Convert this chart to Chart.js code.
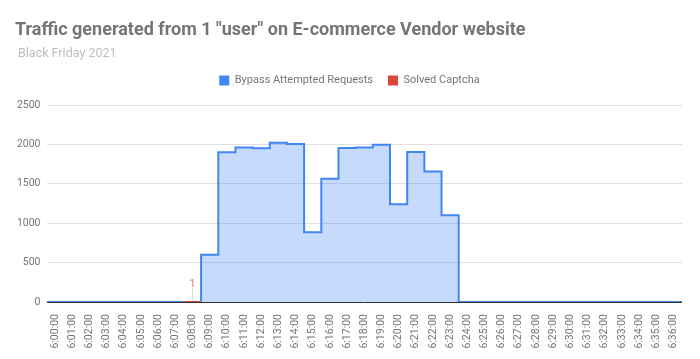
<!DOCTYPE html>
<html>
<head>
<meta charset="utf-8">
<script src="https://cdn.jsdelivr.net/npm/chart.js@4"></script>
<style>
html,body{margin:0;padding:0;background:#fff;}
#wrap{width:700px;height:359px;position:relative;}
</style>
</head>
<body>
<div id="wrap"><canvas id="c" width="700" height="359"></canvas></div>
<script>
const TITLE = 'Traffic generated from 1 "user" on E-commerce Vendor website';
const SUBTITLE = 'Black Friday 2021';
const categories = ['6:00:00','6:01:00','6:02:00','6:03:00','6:04:00','6:05:00','6:06:00','6:07:00','6:08:00','6:09:00','6:10:00','6:11:00','6:12:00','6:13:00','6:14:00','6:15:00','6:16:00','6:17:00','6:18:00','6:19:00','6:20:00','6:21:00','6:22:00','6:23:00','6:24:00','6:25:00','6:26:00','6:27:00','6:28:00','6:29:00','6:30:00','6:31:00','6:32:00','6:33:00','6:34:00','6:35:00','6:36:00'];
const bypassRequests = [0,0,0,0,0,0,0,0,0,600,1900,1960,1950,2020,2005,885,1565,1955,1960,1995,1240,1905,1655,1100,0,0,0,0,0,0,0,0,0,0,0,0,0];
const solvedCaptcha = [null,null,null,null,null,null,null,null,1,null,null,null,null,null,null,null,null,null,null,null,null,null,null,null,null,null,null,null,null,null,null,null,null,null,null,null,null];
const yTicks = [0,500,1000,1500,2000,2500];

// step points: each value spans its category band [i, i+1]
function stepPoints(arr){
  const pts = [];
  arr.forEach((v,i)=>{
    if(v===null){ pts.push({x:i,y:null}); return; }
    pts.push({x:i,y:v});
    if(i===arr.length-1 || arr[i+1]===null) pts.push({x:i+1,y:v});
  });
  return pts;
}

const titlePlugin = {
  id:'titles',
  beforeDraw(chart){
    const ctx = chart.ctx;
    ctx.save();
    ctx.textAlign='left';
    ctx.textBaseline='alphabetic';
    ctx.fillStyle='#757575';
    ctx.font='bold 18px Roboto';
    ctx.fillText(TITLE,15,35);
    ctx.fillStyle='#bdbdbd';
    ctx.font='12.5px Roboto';
    ctx.fillText(SUBTITLE,18,57);
    ctx.restore();
  }
};
// spacer box between legend and plot area
const spacerPlugin = {
  id:'spacer',
  beforeInit(chart){
    Chart.layouts.addBox(chart,{
      position:'top',weight:500,fullSize:true,options:{},
      top:0,left:0,right:0,bottom:0,width:0,height:0,
      update(maxWidth){ this.width = maxWidth; this.height = 9; },
      isHorizontal(){ return true; },
      getPadding(){ return {top:0,left:0,right:0,bottom:0}; },
      draw(){}
    });
  }
};
const annoPlugin = {
  id:'anno',
  afterDatasetsDraw(chart){
    const xs = chart.scales.x, ys = chart.scales.y, ctx = chart.ctx;
    solvedCaptcha.forEach((v,i)=>{
      if(v===null) return;
      const x = Math.round(xs.getPixelForValue(i+0.5))+0.5;
      const y = ys.getPixelForValue(v);
      ctx.save();
      ctx.strokeStyle='#d9d9d9';
      ctx.lineWidth=1;
      ctx.beginPath();ctx.moveTo(x,y-1);ctx.lineTo(x,y-14);ctx.stroke();
      ctx.fillStyle='#e8776d';
      ctx.font='11.5px Roboto';
      ctx.textAlign='center';
      ctx.textBaseline='alphabetic';
      ctx.fillText(String(v),x,y-15);
      ctx.restore();
    });
  }
};

new Chart(document.getElementById('c'),{
  type:'line',
  data:{
    datasets:[
      {label:'Bypass Attempted Requests',data:stepPoints(bypassRequests),stepped:true,
       borderColor:'#4285f4',backgroundColor:'rgba(66,133,244,0.3)',fill:'origin',borderWidth:2,pointRadius:0,order:1},
      {label:'Solved Captcha',data:stepPoints(solvedCaptcha),stepped:true,spanGaps:false,
       borderColor:'#db4437',backgroundColor:'rgba(219,68,55,0.3)',fill:'origin',borderWidth:2,pointRadius:0,order:0}
    ]
  },
  plugins:[titlePlugin,spacerPlugin,annoPlugin],
  options:{
    responsive:false,animation:false,
    layout:{padding:{top:60,right:18,left:17,bottom:0}},
    plugins:{
      title:{display:false},
      tooltip:{enabled:false},
      legend:{position:'top',align:'center',
        labels:{boxWidth:10,boxHeight:10,padding:15,color:'#757575',font:{family:'Roboto',size:11},
          generateLabels(chart){
            return chart.data.datasets.map((d,i)=>({text:d.label,fillStyle:d.borderColor,strokeStyle:d.borderColor,lineWidth:0,datasetIndex:i,fontColor:'#757575'}));
          }}}
    },
    scales:{
      x:{type:'linear',min:0,max:categories.length,
        afterBuildTicks(s){ s.ticks = categories.map((c,i)=>({value:i+0.5})); },
        afterFit(s){ s.height = 57; },
        grid:{display:false},border:{display:false},
        ticks:{autoSkip:false,maxRotation:90,minRotation:90,color:'#757575',font:{family:'Roboto',size:10.5},padding:4,
          callback(v){ return categories[Math.floor(v)]; }}
      },
      y:{min:0,max:2500,
        afterBuildTicks(s){ s.ticks = yTicks.map(v=>({value:v})); },
        afterFit(s){ s.width = 29.5; },
        grid:{color(c){return c.tick && c.tick.value===0 ? '#333333' : '#e0e0e0';},drawTicks:false},
        border:{display:false},
        ticks:{color:'#757575',font:{family:'Roboto',size:10.5},padding:6,callback(v){ return String(v); }}
      }
    }
  }
});
</script>
</body>
</html>
